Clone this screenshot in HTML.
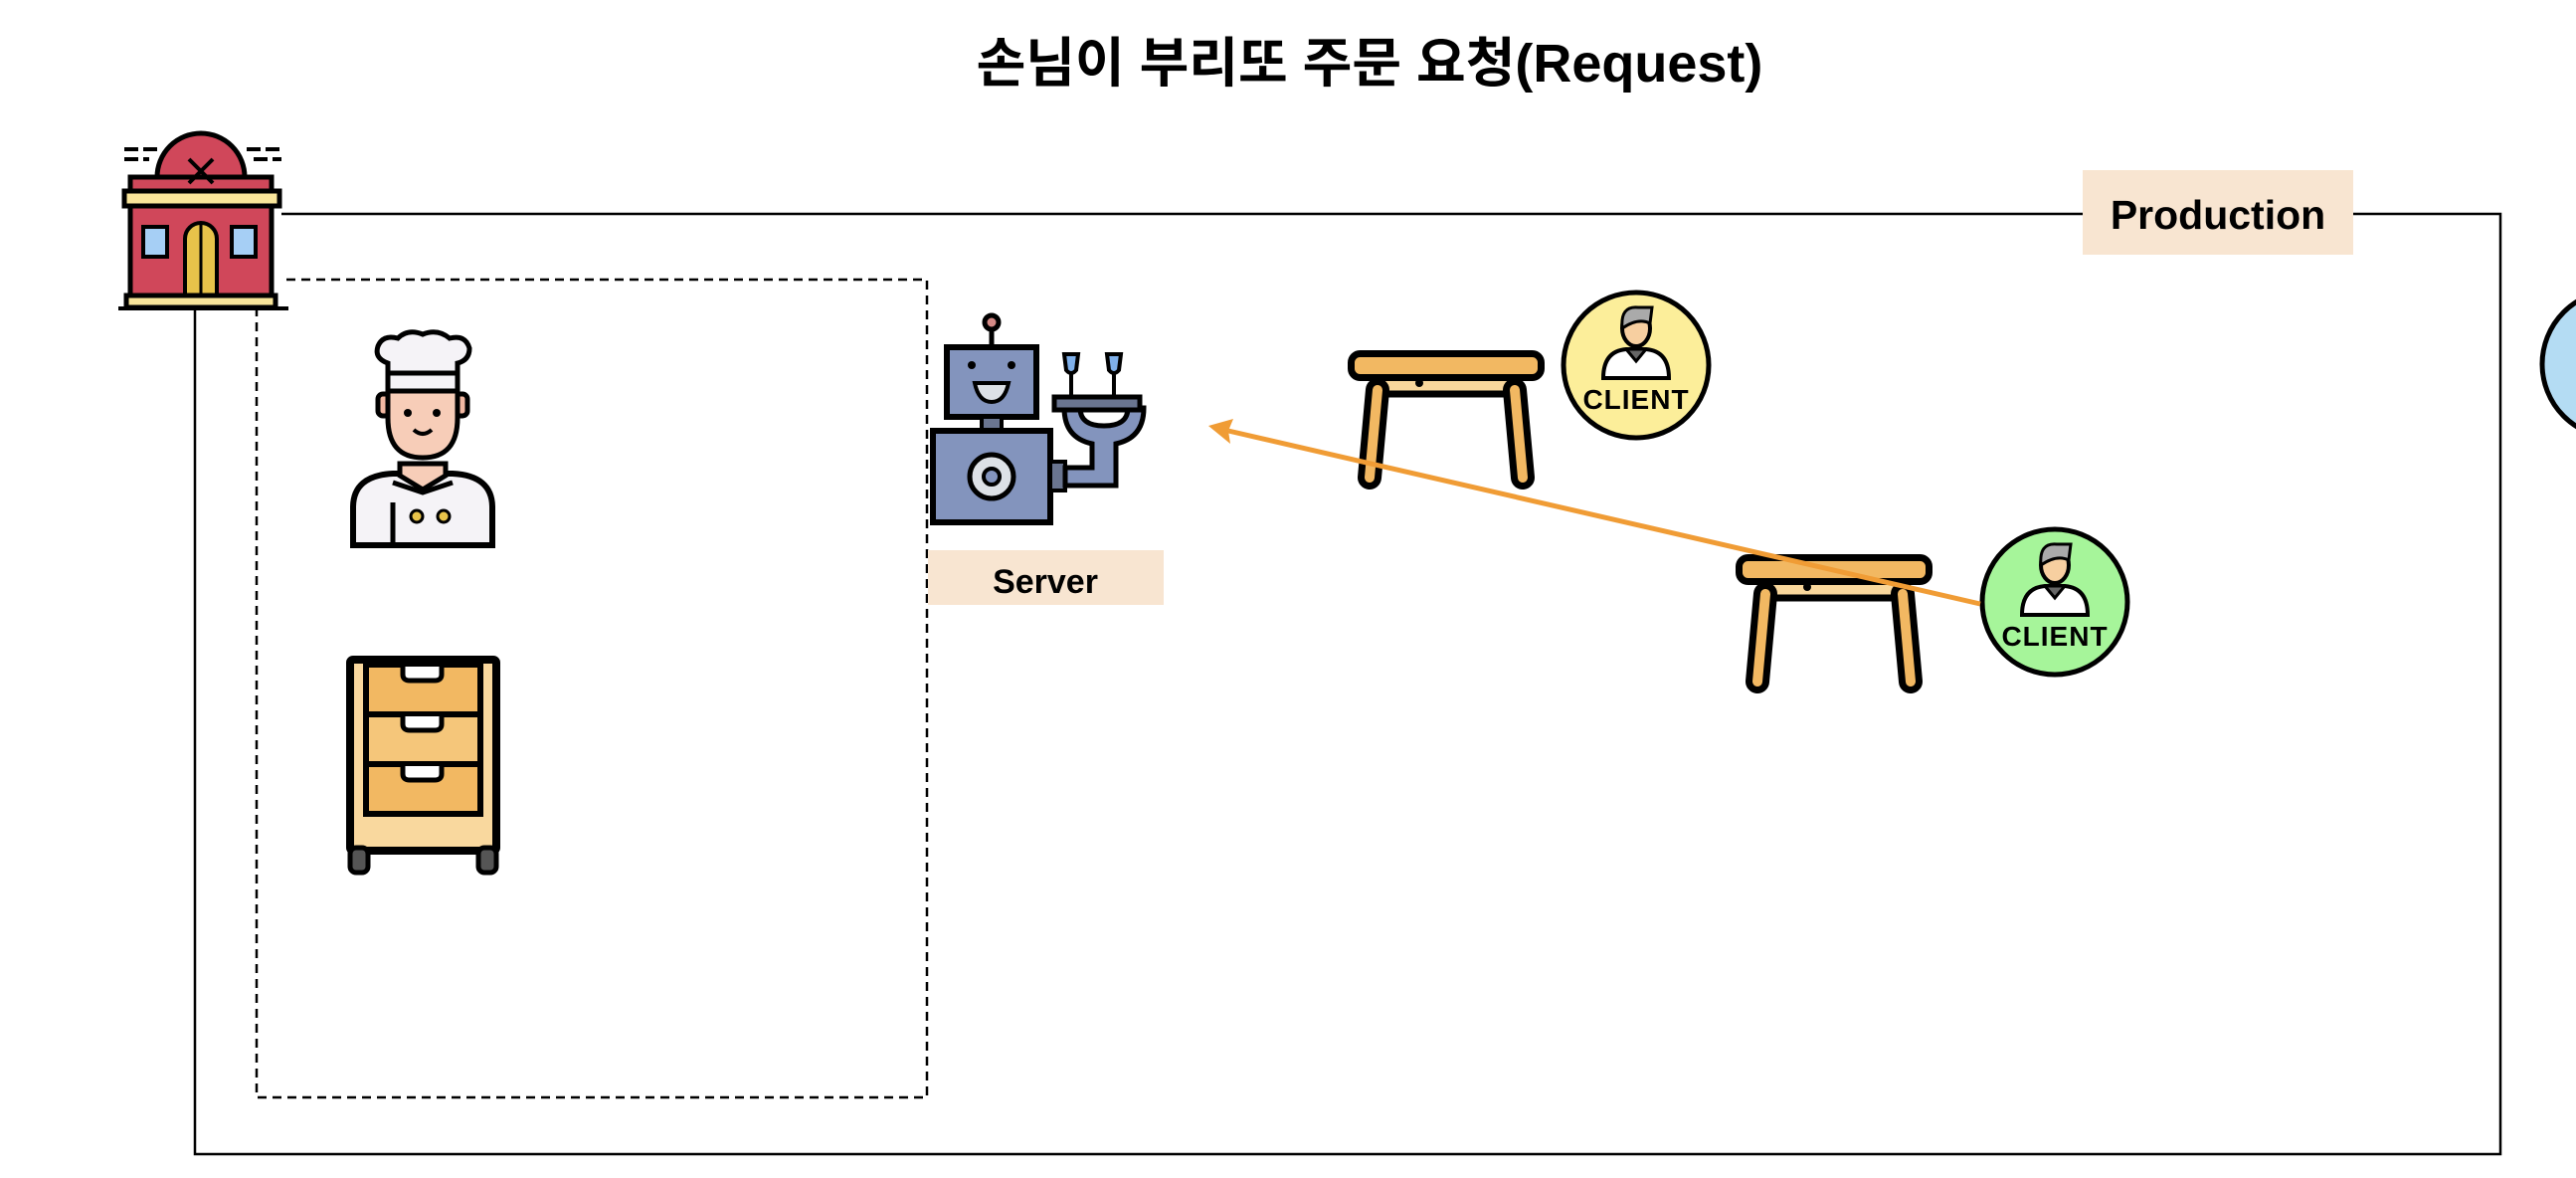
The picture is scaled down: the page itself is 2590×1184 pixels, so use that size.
<!DOCTYPE html>
<html><head><meta charset="utf-8"><style>
html,body{margin:0;padding:0;background:#fff;}
svg{display:block}
text{font-family:"Liberation Sans","Noto Sans CJK KR",sans-serif;font-weight:bold;fill:#000}
</style></head><body>
<svg width="2590" height="1184" viewBox="0 0 2590 1184" xmlns="http://www.w3.org/2000/svg">
<defs>
<g id="table">
  <rect x="28" y="24" width="142" height="20" fill="#f9d79c" stroke="#000" stroke-width="7"/>
  <path d="M30 40 L22 128 M168 40 L176 128" stroke="#000" stroke-width="24" stroke-linecap="round"/>
  <path d="M30 40 L22 128 M168 40 L176 128" stroke="#f2b862" stroke-width="10" stroke-linecap="round"/>
  <rect x="3.5" y="3.5" width="191" height="24" rx="9" fill="#f2b862" stroke="#000" stroke-width="7"/>
  <circle cx="72" cy="33" r="4" fill="#000"/>
</g>
<g id="person">
  <path d="M-33 25 Q-33 -2 -10 -4 L10 -4 Q33 -2 33 25 Z" fill="#fff" stroke="#000" stroke-width="4"/>
  <path d="M-10 -4 L0 8 L10 -4 Z" fill="#666" stroke="#000" stroke-width="3"/>
  <ellipse cx="0" cy="-25" rx="14" ry="18" fill="#f7cfa0" stroke="#000" stroke-width="4"/>
  <path d="M-14 -25 Q-16 -48 2 -46 L16 -46 L14 -30 Q2 -36 -14 -25Z" fill="#aaa" stroke="#000" stroke-width="3"/>
  <text x="0" y="56" text-anchor="middle" font-size="28" style="letter-spacing:1px">CLIENT</text>
</g>
</defs>

<text x="1377" y="82" text-anchor="middle" font-size="54">손님이 부리또 주문 요청(Request)</text>

<rect x="196" y="215" width="2318" height="945" fill="none" stroke="#000" stroke-width="2.5"/>
<rect x="2094" y="171" width="272" height="85" fill="#f8e5d1"/>
<text x="2230" y="230" text-anchor="middle" font-size="41">Production</text>

<rect x="258" y="281" width="674" height="822" fill="none" stroke="#000" stroke-width="2.5" stroke-dasharray="9,6"/>

<g>
  <rect x="119" y="154" width="164" height="158" fill="#fff"/>
  <path d="M158 178 A44 44 0 0 1 246 178 Z" fill="#d0475a" stroke="#000" stroke-width="5"/>
  <rect x="131" y="178" width="142" height="14" fill="#d0475a" stroke="#000" stroke-width="5"/>
  <rect x="125" y="192" width="156" height="15" fill="#f9e59a" stroke="#000" stroke-width="5"/>
  <rect x="131" y="207" width="142" height="90" fill="#d0475a" stroke="#000" stroke-width="5"/>
  <rect x="144" y="228" width="24" height="30" fill="#a6cff5" stroke="#000" stroke-width="4"/>
  <rect x="233" y="228" width="24" height="30" fill="#a6cff5" stroke="#000" stroke-width="4"/>
  <path d="M186 297 L186 240 A16 16 0 0 1 218 240 L218 297 Z" fill="#e8c34a" stroke="#000" stroke-width="4"/>
  <line x1="202" y1="226" x2="202" y2="297" stroke="#000" stroke-width="3"/>
  <rect x="127" y="297" width="150" height="12" fill="#f9e59a" stroke="#000" stroke-width="5"/>
  <line x1="119" y1="310" x2="290" y2="310" stroke="#000" stroke-width="4"/>
  <path d="M190 160 L214 184 M214 160 L190 184" stroke="#000" stroke-width="4"/>
  <path d="M125 150 H160 M125 160 H150 M248 150 H283 M255 160 H283" stroke="#000" stroke-width="4" stroke-dasharray="14,5"/>
</g>

<g>
  <path d="M355 548 L355 510 Q355 478 395 476 L455 476 Q495 478 495 510 L495 548 Z" fill="#f5f3f7" stroke="#000" stroke-width="6"/>
  <path d="M402 466 L402 478 L425 492 L448 478 L448 466 Z" fill="#f7cdb8" stroke="#000" stroke-width="5"/>
  <rect x="380" y="396" width="12" height="22" rx="5" fill="#f2b8a2" stroke="#000" stroke-width="5"/>
  <rect x="458" y="396" width="12" height="22" rx="5" fill="#f2b8a2" stroke="#000" stroke-width="5"/>
  <path d="M390 390 L390 420 Q390 460 425 460 Q460 460 460 420 L460 390 Z" fill="#f7cdb8" stroke="#000" stroke-width="5"/>
  <circle cx="410" cy="415" r="4" fill="#000"/><circle cx="439" cy="415" r="4" fill="#000"/>
  <path d="M416 432 Q425 440 434 432" fill="none" stroke="#000" stroke-width="4"/>
  <rect x="390" y="375" width="70" height="18" fill="#f5f3f7" stroke="#000" stroke-width="5"/>
  <path d="M390 375 L390 365 Q376 360 380 348 Q385 336 400 340 Q410 330 425 336 Q440 330 452 340 Q468 336 472 350 Q472 362 460 365 L460 375 Z" fill="#f5f3f7" stroke="#000" stroke-width="5"/>
  <path d="M395 485 L425 495 L455 485 M395 505 L395 548" fill="none" stroke="#000" stroke-width="5"/>
  <circle cx="419" cy="519" r="6" fill="#e8c34a" stroke="#000" stroke-width="3"/>
  <circle cx="446" cy="519" r="6" fill="#e8c34a" stroke="#000" stroke-width="3"/>
</g>

<g>
  <rect x="352" y="663" width="147" height="192" rx="3" fill="#f9d89e" stroke="#000" stroke-width="8"/>
  <rect x="368" y="668" width="115" height="50" fill="#f2b862" stroke="#000" stroke-width="6"/>
  <rect x="368" y="718" width="115" height="50" fill="#f5c67a" stroke="#000" stroke-width="6"/>
  <rect x="368" y="768" width="115" height="50" fill="#f2b862" stroke="#000" stroke-width="6"/>
  <path d="M405 670 L405 678 Q405 684 412 684 L437 684 Q444 684 444 678 L444 670 M405 720 L405 728 Q405 734 412 734 L437 734 Q444 734 444 728 L444 720 M405 770 L405 778 Q405 784 412 784 L437 784 Q444 784 444 778 L444 770" fill="#fff" stroke="#000" stroke-width="5"/>
  <rect x="352" y="852" width="18" height="25" rx="6" fill="#555" stroke="#000" stroke-width="5"/>
  <rect x="481" y="852" width="18" height="25" rx="6" fill="#555" stroke="#000" stroke-width="5"/>
</g>

<g>
  <circle cx="997" cy="324" r="7" fill="#d48a86" stroke="#000" stroke-width="5"/>
  <line x1="997" y1="331" x2="997" y2="348" stroke="#000" stroke-width="5"/>
  <rect x="952" y="349" width="90" height="70" fill="#8394bd" stroke="#000" stroke-width="6"/>
  <circle cx="977" cy="367" r="4" fill="#000"/><circle cx="1017" cy="367" r="4" fill="#000"/>
  <path d="M980 385 L1014 385 Q1010 404 997 404 Q984 404 980 385 Z" fill="#dde1e6" stroke="#000" stroke-width="4"/>
  <rect x="987" y="419" width="20" height="13" fill="#6a7590" stroke="#000" stroke-width="4"/>
  <rect x="938" y="433" width="118" height="92" fill="#8394bd" stroke="#000" stroke-width="6"/>
  <circle cx="997" cy="479" r="22" fill="#dde1e6" stroke="#000" stroke-width="5"/>
  <circle cx="997" cy="479" r="8" fill="#8394bd" stroke="#000" stroke-width="4"/>
  <rect x="1056" y="464" width="15" height="29" fill="#6a7590" stroke="#000" stroke-width="4"/>
  <path d="M1071 470 L1098 470 L1098 446 Q1070 440 1070 410 L1086 410 Q1086 428 1110 428 Q1134 428 1134 410 L1150 410 Q1150 440 1122 446 L1122 488 L1071 488 Z" fill="#8394bd" stroke="#000" stroke-width="5"/>
  <rect x="1060" y="399" width="86" height="13" fill="#6a7590" stroke="#000" stroke-width="5"/>
  <path d="M1070 356 L1084 356 L1082 372 Q1077 378 1072 372 Z M1113 356 L1127 356 L1125 372 Q1120 378 1115 372 Z" fill="#7fb0ea" stroke="#000" stroke-width="4"/>
  <path d="M1077 376 V399 M1120 376 V399" stroke="#000" stroke-width="4"/>
</g>
<rect x="933" y="553" width="237" height="55" fill="#f8e5d1"/>
<text x="1051" y="596" text-anchor="middle" font-size="34">Server</text>

<use href="#table" x="1355" y="352"/>
<use href="#table" x="1745" y="557"/>

<circle cx="1645" cy="367" r="73" fill="#fcee9a" stroke="#000" stroke-width="5"/>
<use href="#person" x="1645" y="355"/>
<circle cx="2066" cy="605" r="73" fill="#a6f59a" stroke="#000" stroke-width="5"/>
<use href="#person" x="2066" y="593"/>
<circle cx="2630" cy="366" r="74" fill="#b4dcf3" stroke="#000" stroke-width="5"/>

<line x1="1991" y1="607" x2="1235" y2="433" stroke="#f09c35" stroke-width="5"/>
<polygon points="1215,428 1240,421 1235,433 1237,446" fill="#f09c35"/>
</svg>
</body></html>
